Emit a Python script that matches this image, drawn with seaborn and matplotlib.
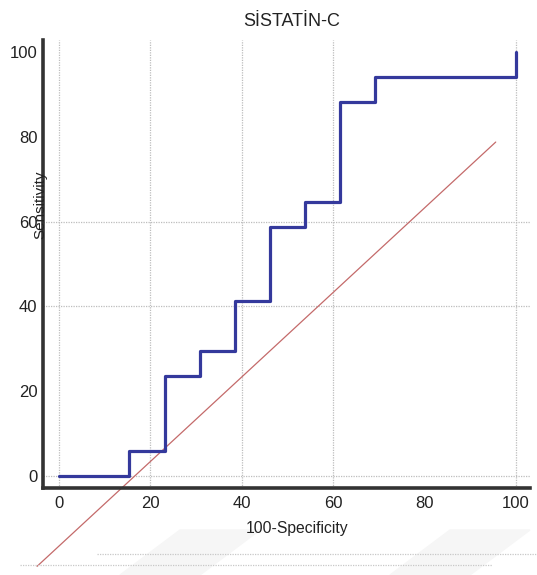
import matplotlib
matplotlib.use("Agg")
import matplotlib.pyplot as plt
from matplotlib.lines import Line2D
from matplotlib.patches import Polygon
import seaborn as sns
import pandas as pd

# ---- data ----
fpr = [0, 15.4, 23.1, 30.8, 38.5, 46.2, 53.8, 61.5, 69.2, 100, 100]
tpr = [0, 5.9, 23.5, 29.4, 41.2, 58.8, 64.7, 88.2, 94.1, 94.1, 100]
diag_x = [-4.8, 95.6]
diag_y = [-21.4, 78.8]
x_ticks = [0, 20, 40, 60, 80, 100]
y_ticks = [0, 20, 40, 60, 80, 100]
vgrid = [0, 20, 40, 60, 100]
hgrid = [0, 40, 60]
title = "SİSTATİN-C"
xlabel = "100-Specificity"
ylabel = "Sensitivity"

sns.set_style("white")
plt.rcParams['font.family'] = ['Liberation Sans', 'DejaVu Sans']

fig = plt.figure(figsize=(5.37, 5.75), dpi=100)
ax = fig.add_axes([43/537, 87/575, (530-43)/537, (488-40)/575])
ax.set_xlim(-3.5, 103.1)
ax.set_ylim(-2.9, 102.9)

for v in vgrid:
    ax.axvline(v, color="#bdbdbd", lw=0.9, ls=(0, (1, 1)), zorder=1)
for h in hgrid:
    ax.axhline(h, color="#bdbdbd", lw=0.9, ls=(0, (1, 1)), zorder=1)

df = pd.DataFrame({"fpr": fpr, "tpr": tpr})
sns.lineplot(data=df, x="fpr", y="tpr", sort=False, estimator=None,
             drawstyle="steps-post", color="#34399c", lw=2.3, ax=ax, zorder=3)
ax.plot(diag_x, diag_y, color="#c46a6a", lw=0.9, clip_on=False, zorder=2)

ax.set_xticks(x_ticks)
ax.set_yticks(y_ticks)
ax.set_xticks(range(0, 101, 5), minor=True)
ax.set_yticks(range(0, 101, 5), minor=True)
ax.tick_params(axis="both", which="major", direction="in", length=10, width=2.4,
               color="#333333", labelsize=12, labelcolor="#222222")
ax.tick_params(axis="both", which="minor", direction="in", length=5, width=1.3,
               color="#555555")
ax.tick_params(axis="x", which="major", pad=6)
ax.tick_params(axis="y", which="major", pad=4)

for s in ["top", "right"]:
    ax.spines[s].set_visible(False)
for s in ["left", "bottom"]:
    ax.spines[s].set_linewidth(2.6)
    ax.spines[s].set_color("#333333")

ax.set_xlabel("")
ax.set_ylabel("")
fig.text(297/537, 1 - 528/575, xlabel, ha="center", va="center", fontsize=11.3, color="#222222")
fig.text(40/537, 1 - 205/575, ylabel, ha="center", va="center", rotation=90, fontsize=11, color="#222222")
fig.text(292/537, 1 - 22/575, title, ha="center", va="center", fontsize=13, color="#222222")

# scan artefacts at the bottom
fig.add_artist(Line2D([97/537, 1], [1 - 554/575] * 2, color="#c8c8c8", lw=0.9, ls=(0, (1, 1))))
fig.add_artist(Line2D([20/537, 492/537], [1 - 565/575] * 2, color="#c8c8c8", lw=0.9, ls=(0, (1, 1))))
for x0 in [180, 450]:
    pts = [((x0)/537, 1 - 530/575), ((x0 + 80)/537, 1 - 530/575),
           ((x0 + 20)/537, 1 - 575/575), ((x0 - 60)/537, 1 - 575/575)]
    fig.add_artist(Polygon(pts, closed=True, color="#f6f6f6", zorder=0))

fig.savefig("out.png", dpi=100)
